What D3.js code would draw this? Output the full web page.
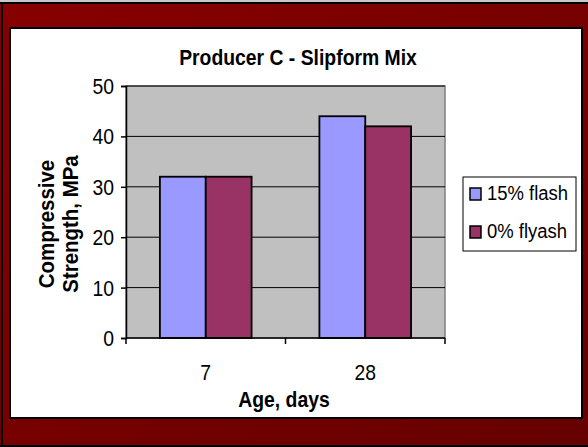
<!DOCTYPE html>
<html>
<head>
<meta charset="utf-8">
<script src="https://cdn.jsdelivr.net/npm/d3@7"></script>
<style>
  html, body { margin: 0; padding: 0; background: #fff; }
  svg { display: block; }
  text { font-family: Arial, "Liberation Sans", sans-serif; fill: #000; }
</style>
</head>
<body>
<svg id="chart" width="588" height="447"></svg>
<script>
// Compressive strength by curing age
const categories = ["7", "28"];
const seriesNames = ["15% flash", "0% flyash"];
const flash15 = [32, 44];
const flyash0 = [32, 42];
const yTicks = [0, 10, 20, 30, 40, 50];
const seriesColors = ["#9999ff", "#993366"];

const title = "Producer C - Slipform Mix";
const xTitle = "Age, days";
const yTitleLines = ["Compressive", "Strength, MPa"];

const W = 588, H = 447;
const plot = { left: 126, right: 445, top: 86, bottom: 338 };
const squeeze = 0.88; // horizontal condensation of the lettering

const svg = d3.select("#chart");

// frame background
const defs = svg.append("defs");
const grad = defs.append("linearGradient").attr("id", "frameGrad")
  .attr("x1", "0%").attr("y1", "0%").attr("x2", "100%").attr("y2", "100%");
grad.append("stop").attr("offset", "0%").attr("stop-color", "#880000");
grad.append("stop").attr("offset", "100%").attr("stop-color", "#660000");

svg.append("rect").attr("x", 0).attr("y", 0).attr("width", W).attr("height", H)
  .attr("fill", "url(#frameGrad)");
svg.append("rect").attr("x", 0).attr("y", 0).attr("width", W).attr("height", 2).attr("fill", "#c8c8c8");
svg.append("rect").attr("x", 0).attr("y", 2).attr("width", W).attr("height", 2).attr("fill", "#000");
svg.append("rect").attr("x", 1).attr("y", 2).attr("width", 2).attr("height", H - 2).attr("fill", "#000");
svg.append("rect").attr("x", 0).attr("y", H - 2).attr("width", W).attr("height", 2).attr("fill", "#000");

// white chart panel
svg.append("rect").attr("x", 10).attr("y", 28).attr("width", 572).attr("height", 390)
  .attr("fill", "#fff").attr("stroke", "#000").attr("stroke-width", 2);

function label(g, x, y, txt, opts) {
  const t = g.append("text")
    .attr("transform", `translate(${x},${y}) scale(${opts.squeeze || squeeze},1)`)
    .attr("text-anchor", opts.anchor || "middle")
    .style("font-size", opts.size + "px")
    .style("font-weight", opts.bold ? "bold" : "normal")
    .text(txt);
  return t;
}

// scales
const x0 = d3.scaleBand().domain(categories).range([plot.left, plot.right]);
const x1 = d3.scaleBand().domain(seriesNames).range([0, x0.bandwidth()])
  .paddingInner(0).paddingOuter(0.74);
const y = d3.scaleLinear().domain([0, 50]).range([plot.bottom, plot.top]);

// plot area
svg.append("rect").attr("x", plot.left).attr("y", plot.top)
  .attr("width", plot.right - plot.left).attr("height", plot.bottom - plot.top)
  .attr("fill", "#c0c0c0").attr("stroke", "#808080").attr("stroke-width", 1.5);

// gridlines
svg.append("g").selectAll("line").data(yTicks.filter(d => d > 0)).join("line")
  .attr("x1", plot.left).attr("x2", plot.right)
  .attr("y1", d => y(d)).attr("y2", d => y(d))
  .attr("stroke", "#000").attr("stroke-width", 1);

// bars
const seriesData = [flash15, flyash0];
const groups = svg.append("g").selectAll("g").data(categories).join("g")
  .attr("transform", d => `translate(${x0(d)},0)`);
groups.selectAll("rect")
  .data((c, ci) => seriesNames.map((s, si) => ({ s, si, v: seriesData[si][ci] })))
  .join("rect")
  .attr("x", d => x1(d.s))
  .attr("width", x1.bandwidth())
  .attr("y", d => y(d.v))
  .attr("height", d => y(0) - y(d.v))
  .attr("fill", d => seriesColors[d.si])
  .attr("stroke", "#000").attr("stroke-width", 1.8);

// y axis
const yAxis = svg.append("g").attr("transform", `translate(${plot.left},0)`)
  .call(d3.axisLeft(y).tickValues(yTicks).tickSize(5).tickFormat(""));
yAxis.select(".domain").attr("stroke", "#000").attr("stroke-width", 1.5);
yAxis.selectAll(".tick line").attr("stroke", "#000").attr("stroke-width", 1.5);
const yl = svg.append("g");
yTicks.forEach(v => label(yl, 114, y(v) + 8, String(v), { size: 22, anchor: "end" }));

// x axis
svg.append("line").attr("x1", plot.left).attr("x2", plot.right)
  .attr("y1", plot.bottom).attr("y2", plot.bottom)
  .attr("stroke", "#000").attr("stroke-width", 1.5);
const xBounds = [plot.left].concat(categories.map(c => x0(c) + x0.bandwidth()));
svg.append("g").selectAll("line").data(xBounds).join("line")
  .attr("x1", d => d).attr("x2", d => d)
  .attr("y1", plot.bottom).attr("y2", plot.bottom + 6)
  .attr("stroke", "#000").attr("stroke-width", 1.5);
const xl = svg.append("g");
categories.forEach(c => label(xl, x0(c) + x0.bandwidth() / 2, 380, c, { size: 22 }));

// titles
label(svg, 298, 65, title, { size: 22, bold: true });
label(svg, 284, 407, xTitle, { size: 22, bold: true });
const yt = svg.append("g").attr("transform", "translate(0,224) rotate(-90)");
label(yt, 0, 54, yTitleLines[0], { size: 22, bold: true, squeeze: 0.93 });
label(yt, 0, 78, yTitleLines[1], { size: 22, bold: true, squeeze: 0.93 });

// legend
const lg = svg.append("g");
lg.append("rect").attr("x", 463).attr("y", 177).attr("width", 113).attr("height", 74)
  .attr("fill", "#fff").attr("stroke", "#000").attr("stroke-width", 1);
seriesNames.forEach((s, i) => {
  const yy = 188 + i * 38;
  lg.append("rect").attr("x", 470).attr("y", yy).attr("width", 11).attr("height", 12)
    .attr("fill", seriesColors[i]).attr("stroke", "#000").attr("stroke-width", 1.5);
  label(lg, 487, yy + 12, s, { size: 21, anchor: "start" });
});
</script>
</body>
</html>
